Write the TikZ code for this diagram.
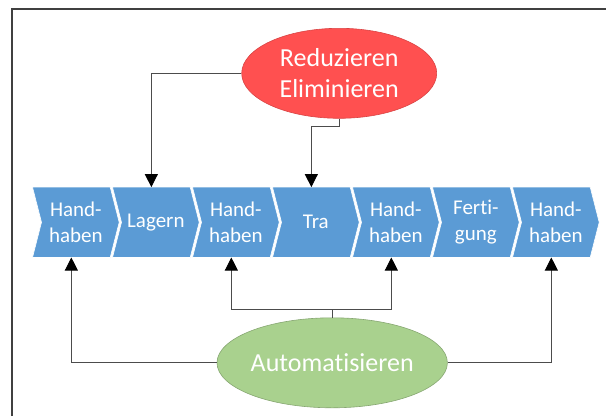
\documentclass[tikz,border=0pt]{standalone}
\usepackage{fontspec}
\setmainfont{Carlito}[Ligatures=NoCommon]
\usepackage{tikz}
\usepackage{xcolor}
\usetikzlibrary{arrows.meta, positioning, calc, shapes.geometric, backgrounds}

\definecolor{stepblue}{HTML}{5B9BD5}
\definecolor{reducered}{HTML}{FF5050}
\definecolor{autogreen}{HTML}{A9D18E}

\begin{document}
\begin{tikzpicture}[x=1pt, y=-1pt,
    stepnode/.style={minimum width=86.3pt, minimum height=70pt, inner sep=0pt, align=center,
      text=white, font=\fontsize{21}{26}\selectfont},
    goal/.style={ellipse, minimum width=195pt, minimum height=90pt, inner sep=0pt, align=center,
      text=white, line width=0.6pt, font=\fontsize{26}{31}\selectfont},
    conn/.style={black!70, line width=0.9pt, -{Triangle[width=13pt, length=13pt, black]}}]
    \useasboundingbox (0,0) rectangle (606,416);
    \draw[black!75, line width=1.4pt] (12,416) -- (12,9) -- (606,9);
    % Prozesskette
    \foreach \txt [count=\i] in {{Hand-\\haben}, Lagern, {Hand-\\haben}, Tra, {Hand-\\haben}, {Ferti-\\gung}, {Hand-\\haben}} {
      \node[stepnode] (c\i) at ({75.85+80*(\i-1)}, 222.3) {\txt};
      \begin{scope}[on background layer]
        \fill[stepblue, draw=white, line width=0.6pt] (c\i.north west) -- ($(c\i.north east)+(-9,0)$) -- (c\i.east)
          -- ($(c\i.south east)+(-9,0)$) -- (c\i.south west) -- ($(c\i.west)+(9,0)$) -- cycle;
      \end{scope}
    }
    \node[goal, fill=reducered, draw=reducered!85!black] (reduce) at (339.2,73.3) {Reduzieren\\Eliminieren};
    \node[goal, fill=autogreen, draw=autogreen!80!black] (auto) at (332.2,362.8) {Automatisieren};
    % Pfeile
    \draw[conn] (reduce.west) -| ($(c2.north)+(-4.5,0)$);
    \draw[conn] (reduce.south) -- ++(0,7.7) -| ($(c4.north)+(-4.5,0)$);
    \draw[conn] (auto.west) -| ($(c1.south)+(-4.5,0)$);
    \draw[conn] (auto.east) -| ($(c7.south)+(-4.5,0)$);
    \coordinate (bus) at ($(auto.north)+(0,-8.5)$);
    \draw[conn] (auto.north) -- (bus) -| ($(c3.south)+(-4.5,0)$);
    \draw[conn] (bus) -| ($(c5.south)+(-4.5,0)$);
\end{tikzpicture}
\end{document}
